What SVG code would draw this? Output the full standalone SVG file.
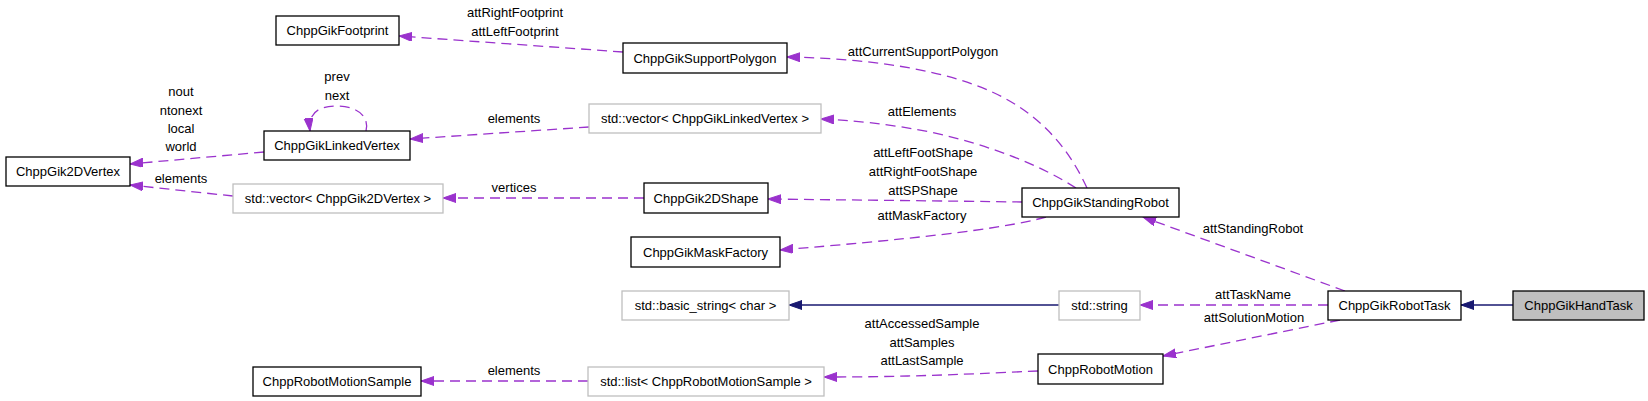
<svg xmlns="http://www.w3.org/2000/svg" width="1648" height="401" viewBox="0 0 1648 401">
<style>
text{font-family:"Liberation Sans",Arial,sans-serif;font-size:13px;fill:#000;text-anchor:middle}
.n{fill:#fff;stroke:#000;stroke-width:1.3}
.g{fill:#fff;stroke:#bfbfbf;stroke-width:1.3}
.h{fill:#bfbfbf;stroke:#000;stroke-width:1.3}
.d{fill:none;stroke:#9a32cd;stroke-width:1.3;stroke-dasharray:10,6;marker-end:url(#pa)}
.s{fill:none;stroke:#191970;stroke-width:1.3;marker-end:url(#ba)}
</style>
<defs>
<marker id="pa" markerUnits="userSpaceOnUse" markerWidth="14" markerHeight="10" refX="13" refY="4.5" orient="auto"><path d="M0,0 L13,4.5 L0,9 z" fill="#9a32cd" stroke="#9a32cd"/></marker>
<marker id="ba" markerUnits="userSpaceOnUse" markerWidth="14" markerHeight="10" refX="13" refY="4.5" orient="auto"><path d="M0,0 L13,4.5 L0,9 z" fill="#191970" stroke="#191970"/></marker>
</defs>
<rect width="1648" height="401" fill="#fff"/>
<g id="edges">
<path class="d" d="M623,52 L399,36"/>
<text x="515" y="17">attRightFootprint</text><text x="515" y="36">attLeftFootprint</text>
<path class="d" d="M1087,188 C1065,140 1030,105 975,85 C920,65 850,58 787,57"/>
<text x="923" y="56">attCurrentSupportPolygon</text>
<path class="d" d="M1076,188 C1040,165 990,145 930,132 C890,124 850,120 821,119"/>
<text x="922" y="116">attElements</text>
<path class="d" d="M1022,202 C950,201 850,200 768,199"/>
<text x="923" y="157">attLeftFootShape</text><text x="923" y="176">attRightFootShape</text><text x="923" y="195">attSPShape</text>
<path class="d" d="M1046,217 C1000,230 900,240 780,250"/>
<text x="922" y="220">attMaskFactory</text>
<path class="d" d="M1345,291 L1143,217"/>
<text x="1253" y="233">attStandingRobot</text>
<path class="d" d="M1328,305 L1140,305"/>
<text x="1253" y="299">attTaskName</text>
<path class="d" d="M1340,320 L1163,356"/>
<text x="1254" y="322">attSolutionMotion</text>
<path class="s" d="M1059,305 L789,305"/>
<path class="s" d="M1513,305 L1461,305"/>
<path class="d" d="M1038,371 C950,375 900,377 824,377"/>
<text x="922" y="328">attAccessedSample</text><text x="922" y="347">attSamples</text><text x="922" y="365">attLastSample</text>
<path class="d" d="M588,381 L421,381"/>
<text x="514" y="375">elements</text>
<path class="d" d="M644,198 L443,198"/>
<text x="514" y="192">vertices</text>
<path class="d" d="M233,196 L130,185"/>
<text x="181" y="183">elements</text>
<path class="d" d="M264,152 L130,164"/>
<text x="181" y="96">nout</text><text x="181" y="115">ntonext</text><text x="181" y="133">local</text><text x="181" y="151">world</text>
<path class="d" d="M589,127 L410,139"/>
<text x="514" y="123">elements</text>
<path class="d" d="M366,131 C370,115 355,106 337,106 C318,106 308,113 310,131"/>
<text x="337" y="81">prev</text><text x="337" y="100">next</text>
</g>
<g id="ChppGikHandTask"><rect class="h" x="1513" y="291" width="131" height="29"/><text x="1578.5" y="310">ChppGikHandTask</text></g>
<g id="ChppGikRobotTask"><rect class="n" x="1328" y="291" width="133" height="29"/><text x="1394.5" y="310">ChppGikRobotTask</text></g>
<g id="ChppGikStandingRobot"><rect class="n" x="1022" y="188" width="157" height="29"/><text x="1100.5" y="207">ChppGikStandingRobot</text></g>
<g id="ChppGikSupportPolygon"><rect class="n" x="623" y="43" width="164" height="30"/><text x="705" y="62.5">ChppGikSupportPolygon</text></g>
<g id="ChppGikFootprint"><rect class="n" x="276" y="16" width="123" height="29"/><text x="337.5" y="35">ChppGikFootprint</text></g>
<g id="vectorLinkedVertex"><rect class="g" x="589" y="104" width="232" height="29"/><text x="705" y="123">std::vector&lt; ChppGikLinkedVertex &gt;</text></g>
<g id="ChppGikLinkedVertex"><rect class="n" x="264" y="131" width="146" height="29"/><text x="337" y="150">ChppGikLinkedVertex</text></g>
<g id="ChppGik2DVertex"><rect class="n" x="6" y="157" width="124" height="29"/><text x="68" y="176">ChppGik2DVertex</text></g>
<g id="vector2DVertex"><rect class="g" x="233" y="184" width="210" height="29"/><text x="338" y="203">std::vector&lt; ChppGik2DVertex &gt;</text></g>
<g id="ChppGik2DShape"><rect class="n" x="644" y="183" width="124" height="30"/><text x="706" y="202.5">ChppGik2DShape</text></g>
<g id="ChppGikMaskFactory"><rect class="n" x="631" y="237" width="149" height="30"/><text x="705.5" y="256.5">ChppGikMaskFactory</text></g>
<g id="basic_string"><rect class="g" x="622" y="291" width="167" height="29"/><text x="705.5" y="310">std::basic_string&lt; char &gt;</text></g>
<g id="string"><rect class="g" x="1059" y="291" width="81" height="29"/><text x="1099.5" y="310">std::string</text></g>
<g id="ChppRobotMotion"><rect class="n" x="1038" y="354" width="125" height="30"/><text x="1100.5" y="373.5">ChppRobotMotion</text></g>
<g id="listMotionSample"><rect class="g" x="588" y="367" width="236" height="29"/><text x="706" y="386">std::list&lt; ChppRobotMotionSample &gt;</text></g>
<g id="ChppRobotMotionSample"><rect class="n" x="253" y="367" width="168" height="29"/><text x="337" y="386">ChppRobotMotionSample</text></g>
</svg>
